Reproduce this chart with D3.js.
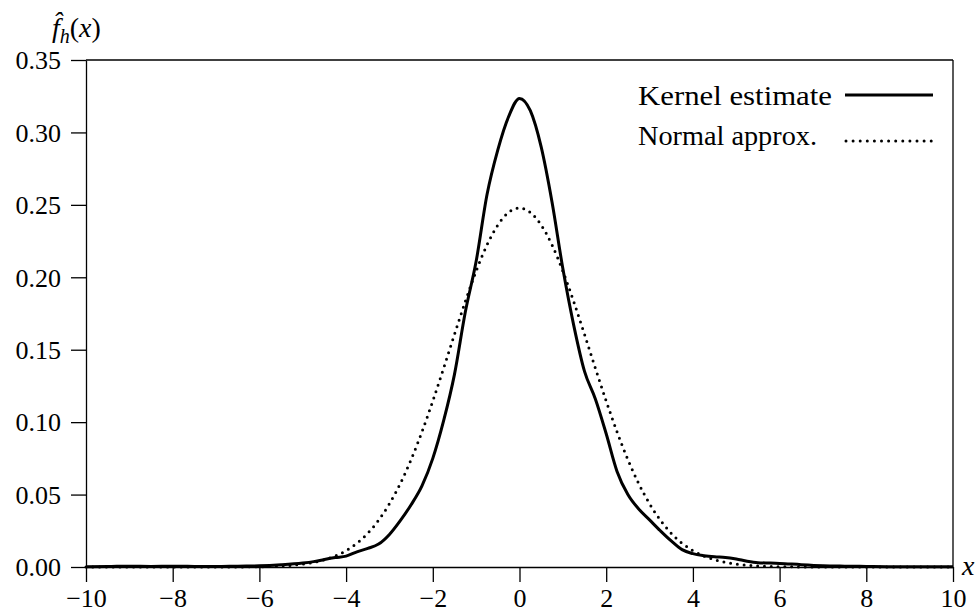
<!DOCTYPE html>
<html><head><meta charset="utf-8">
<script src="https://cdn.jsdelivr.net/npm/d3@7"></script>
<style>body{margin:0;background:#fff}svg{display:block}text{fill:#000}</style>
</head><body>
<svg id="c" width="976" height="613"></svg>
<script>
// Kernel density estimate
const kernelX = [-10,-9.5,-9,-8.5,-8,-7.5,-7,-6.5,-6,-5.5,-5,-4.75,-4.5,-4.25,-4,-3.75,-3.5,-3.25,-3,-2.75,-2.5,-2.25,-2,-1.75,-1.5,-1.25,-1,-0.75,-0.5,-0.25,0,0.25,0.5,0.75,1,1.25,1.5,1.75,2,2.25,2.5,2.75,3,3.25,3.5,3.75,4,4.25,4.5,4.75,5,5.25,5.5,6,6.5,7,7.5,8,8.5,9,10];
const kernelY = [0.0002,0.0003,0.0006,0.0004,0.0005,0.0004,0.0003,0.0006,0.0008,0.0015,0.0027,0.0037,0.0052,0.0065,0.0075,0.0105,0.0128,0.0158,0.0225,0.032,0.043,0.056,0.075,0.101,0.133,0.176,0.211,0.257,0.288,0.311,0.3235,0.315,0.290,0.252,0.206,0.167,0.135,0.116,0.092,0.066,0.050,0.040,0.0325,0.025,0.018,0.012,0.0092,0.0078,0.0070,0.0066,0.0055,0.0040,0.0030,0.0025,0.0016,0.0009,0.0006,0.0004,0.0002,0.0001,0.0001];
// Normal approximation
const normalX = [-10,-7,-6,-5.5,-5,-4.5,-4,-3.75,-3.5,-3.25,-3,-2.75,-2.5,-2.25,-2,-1.75,-1.5,-1.25,-1,-0.75,-0.5,-0.25,0,0.25,0.5,0.75,1,1.25,1.5,1.75,2,2.25,2.5,2.75,3,3.25,3.5,3.75,4,4.5,5,5.5,6,7,10];
const normalY = [0,0,0.0002,0.0007,0.0020,0.0050,0.0113,0.0164,0.0233,0.0323,0.0437,0.0576,0.0742,0.0933,0.1146,0.1373,0.1606,0.1833,0.2043,0.2223,0.2361,0.2448,0.2478,0.2448,0.2361,0.2223,0.2043,0.1833,0.1606,0.1373,0.1146,0.0933,0.0742,0.0576,0.0437,0.0323,0.0233,0.0164,0.0113,0.0050,0.0020,0.0007,0.0002,0,0];
const xTicks = [-10,-8,-6,-4,-2,0,2,4,6,8,10];
const yTicks = [0,0.05,0.10,0.15,0.20,0.25,0.30,0.35];
const legendLabels = ["Kernel estimate","Normal approx."];

const FONT = "'Liberation Serif', 'DejaVu Serif', 'Times New Roman', serif";
const svg = d3.select("#c");
const L=86,R=953,T=60,B=567;
const x = d3.scaleLinear().domain([-10,10]).range([L,R]);
const y = d3.scaleLinear().domain([0,0.35]).range([B,T]);
const FS = 26;

// axes
const gx = svg.append("g").attr("transform",`translate(0,${B})`)
  .call(d3.axisBottom(x).tickValues(xTicks).tickSize(15).tickSizeOuter(0).tickFormat(d3.format("d")));
const gy = svg.append("g").attr("transform",`translate(${L},0)`)
  .call(d3.axisLeft(y).tickValues(yTicks).tickSize(15).tickSizeOuter(0).tickPadding(10).tickFormat(d3.format(".2f")));
[gx,gy].forEach(g=>{
  g.attr("font-family",null).attr("font-size",null);
  g.selectAll("path,line").attr("stroke","#000").attr("stroke-width",1.3);
  g.selectAll("text").style("font-family",FONT).style("font-size",FS+"px").attr("fill","#000");
});
gx.selectAll("text").attr("y",40).attr("dy",null);
gy.selectAll("text").attr("dy","0.34em");
// frame top & right
svg.append("line").attr("x1",L).attr("x2",R).attr("y1",T).attr("y2",T).attr("stroke","#000").attr("stroke-width",1.3);
svg.append("line").attr("x1",R).attr("x2",R).attr("y1",T).attr("y2",B).attr("stroke","#000").attr("stroke-width",1.3);

const line = d3.line().x(d=>x(d[0])).y(d=>y(d[1])).curve(d3.curveMonotoneX);
svg.append("path").datum(normalX.map((v,i)=>[v,normalY[i]]))
  .attr("d",line).attr("fill","none").attr("stroke","#000").attr("stroke-width",3)
  .attr("stroke-linecap","round").attr("stroke-dasharray","0 6.8");
svg.append("path").datum(kernelX.map((v,i)=>[v,kernelY[i]]))
  .attr("d",line).attr("fill","none").attr("stroke","#000").attr("stroke-width",3);

// legend
const lg = svg.append("g");
lg.append("text").attr("x",638).attr("y",105).style("font-family",FONT).style("font-size","28px").attr("textLength",194).attr("lengthAdjust","spacingAndGlyphs").text(legendLabels[0]);
lg.append("line").attr("x1",845).attr("x2",933).attr("y1",95).attr("y2",95).attr("stroke","#000").attr("stroke-width",3);
lg.append("text").attr("x",638).attr("y",145).style("font-family",FONT).style("font-size","28px").attr("textLength",179).attr("lengthAdjust","spacingAndGlyphs").text(legendLabels[1]);
lg.append("line").attr("x1",846).attr("x2",932).attr("y1",141).attr("y2",141).attr("stroke","#000").attr("stroke-width",3)
  .attr("stroke-linecap","round").attr("stroke-dasharray","0 7.1");

// axis labels
const yl = svg.append("text").attr("x",52).attr("y",37).style("font-family",FONT).style("font-size","28px");
yl.append("tspan").attr("font-style","italic").text("f\u0302");
yl.append("tspan").attr("font-style","italic").style("font-size","20px").attr("dy",6).text("h");
yl.append("tspan").attr("dy",-6).text("(");
yl.append("tspan").attr("font-style","italic").text("x");
yl.append("tspan").text(")");
svg.append("text").attr("x",962).attr("y",575).style("font-family",FONT).style("font-size","28px").attr("font-style","italic").text("x");
</script>
</body></html>
